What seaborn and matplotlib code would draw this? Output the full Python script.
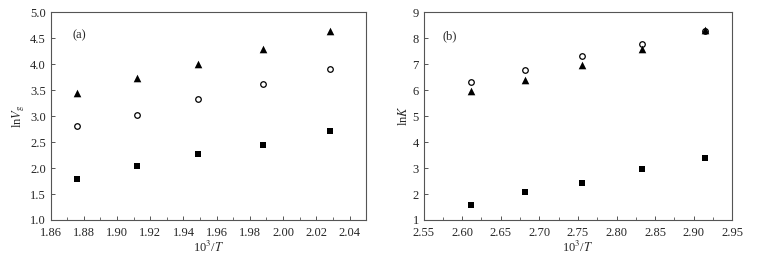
import pandas as pd
import seaborn as sns
import matplotlib.pyplot as plt
from matplotlib.ticker import MultipleLocator

# ===============================
# DATA
# ===============================
x_a = [1.876, 1.912, 1.949, 1.988, 2.028]
tri_a = [3.44, 3.74, 4.01, 4.29, 4.64]
circ_a = [2.81, 3.03, 3.33, 3.62, 3.90]
sq_a = [1.79, 2.04, 2.28, 2.45, 2.72]

x_b = [2.611, 2.681, 2.755, 2.833, 2.915]
tri_b = [5.97, 6.40, 6.96, 7.60, 8.33]
circ_b = [6.32, 6.79, 7.31, 7.78, 8.28]
sq_b = [1.56, 2.06, 2.42, 2.96, 3.37]

# ===============================
# STYLE
# ===============================
sns.set_style("ticks")
plt.rcParams['font.family'] = ['Liberation Serif', 'DejaVu Serif']
plt.rcParams['mathtext.fontset'] = 'stix'
plt.rcParams['xtick.direction'] = 'in'
plt.rcParams['ytick.direction'] = 'in'

fig = plt.figure(figsize=(7.66, 2.66), dpi=100)
ax1 = fig.add_axes([0.066, 0.173, 0.412, 0.781])
ax2 = fig.add_axes([0.553, 0.173, 0.403, 0.781])

def draw(ax, x, tri, circ, sq):
    # circles first so the triangles sit on top where they overlap
    sns.scatterplot(x=x, y=circ, ax=ax, marker="o", facecolor="white",
                    edgecolor="black", s=16, linewidth=0.9)
    sns.scatterplot(x=x, y=tri, ax=ax, marker="^", color="black", s=30, linewidth=0)
    sns.scatterplot(x=x, y=sq, ax=ax, marker="s", color="black", s=20, linewidth=0)
    for s in ax.spines.values():
        s.set_color("#555555")
        s.set_linewidth(0.8)
    ax.tick_params(labelsize=9, length=3, width=0.7, color="#555555")
    ax.tick_params(axis="x", pad=5)
    ax.tick_params(which="minor", length=2, width=0.6, color="#555555")

draw(ax1, x_a, tri_a, circ_a, sq_a)
ax1.set_xlim(1.86, 2.05)
ax1.set_ylim(1.0, 5.0)
ax1.xaxis.set_major_locator(MultipleLocator(0.02))
ax1.xaxis.set_minor_locator(MultipleLocator(0.01))
ax1.yaxis.set_major_locator(MultipleLocator(0.5))
ax1.set_xticklabels([f"{v:.2f}" for v in ax1.get_xticks()])
ax1.set_yticklabels([f"{v:.1f}" for v in ax1.get_yticks()])
ax1.set_xlabel(r"10$^3$/$T$", fontsize=9, labelpad=1)
ax1.set_ylabel(r"ln$V_{\rm g}$", fontsize=9, labelpad=2)
ax1.text(1.873, 4.5, "(a)", fontsize=9)

draw(ax2, x_b, tri_b, circ_b, sq_b)
ax2.set_xlim(2.55, 2.95)
ax2.set_ylim(1, 9)
ax2.xaxis.set_major_locator(MultipleLocator(0.05))
ax2.xaxis.set_minor_locator(MultipleLocator(0.025))
ax2.yaxis.set_major_locator(MultipleLocator(1))
ax2.set_xticklabels([f"{v:.2f}" for v in ax2.get_xticks()])
ax2.set_xlabel(r"10$^3$/$T$", fontsize=9, labelpad=1)
ax2.set_ylabel(r"ln$K$", fontsize=9, labelpad=2)
ax2.text(2.575, 7.95, "(b)", fontsize=9)

fig.savefig("out.png", dpi=100)
